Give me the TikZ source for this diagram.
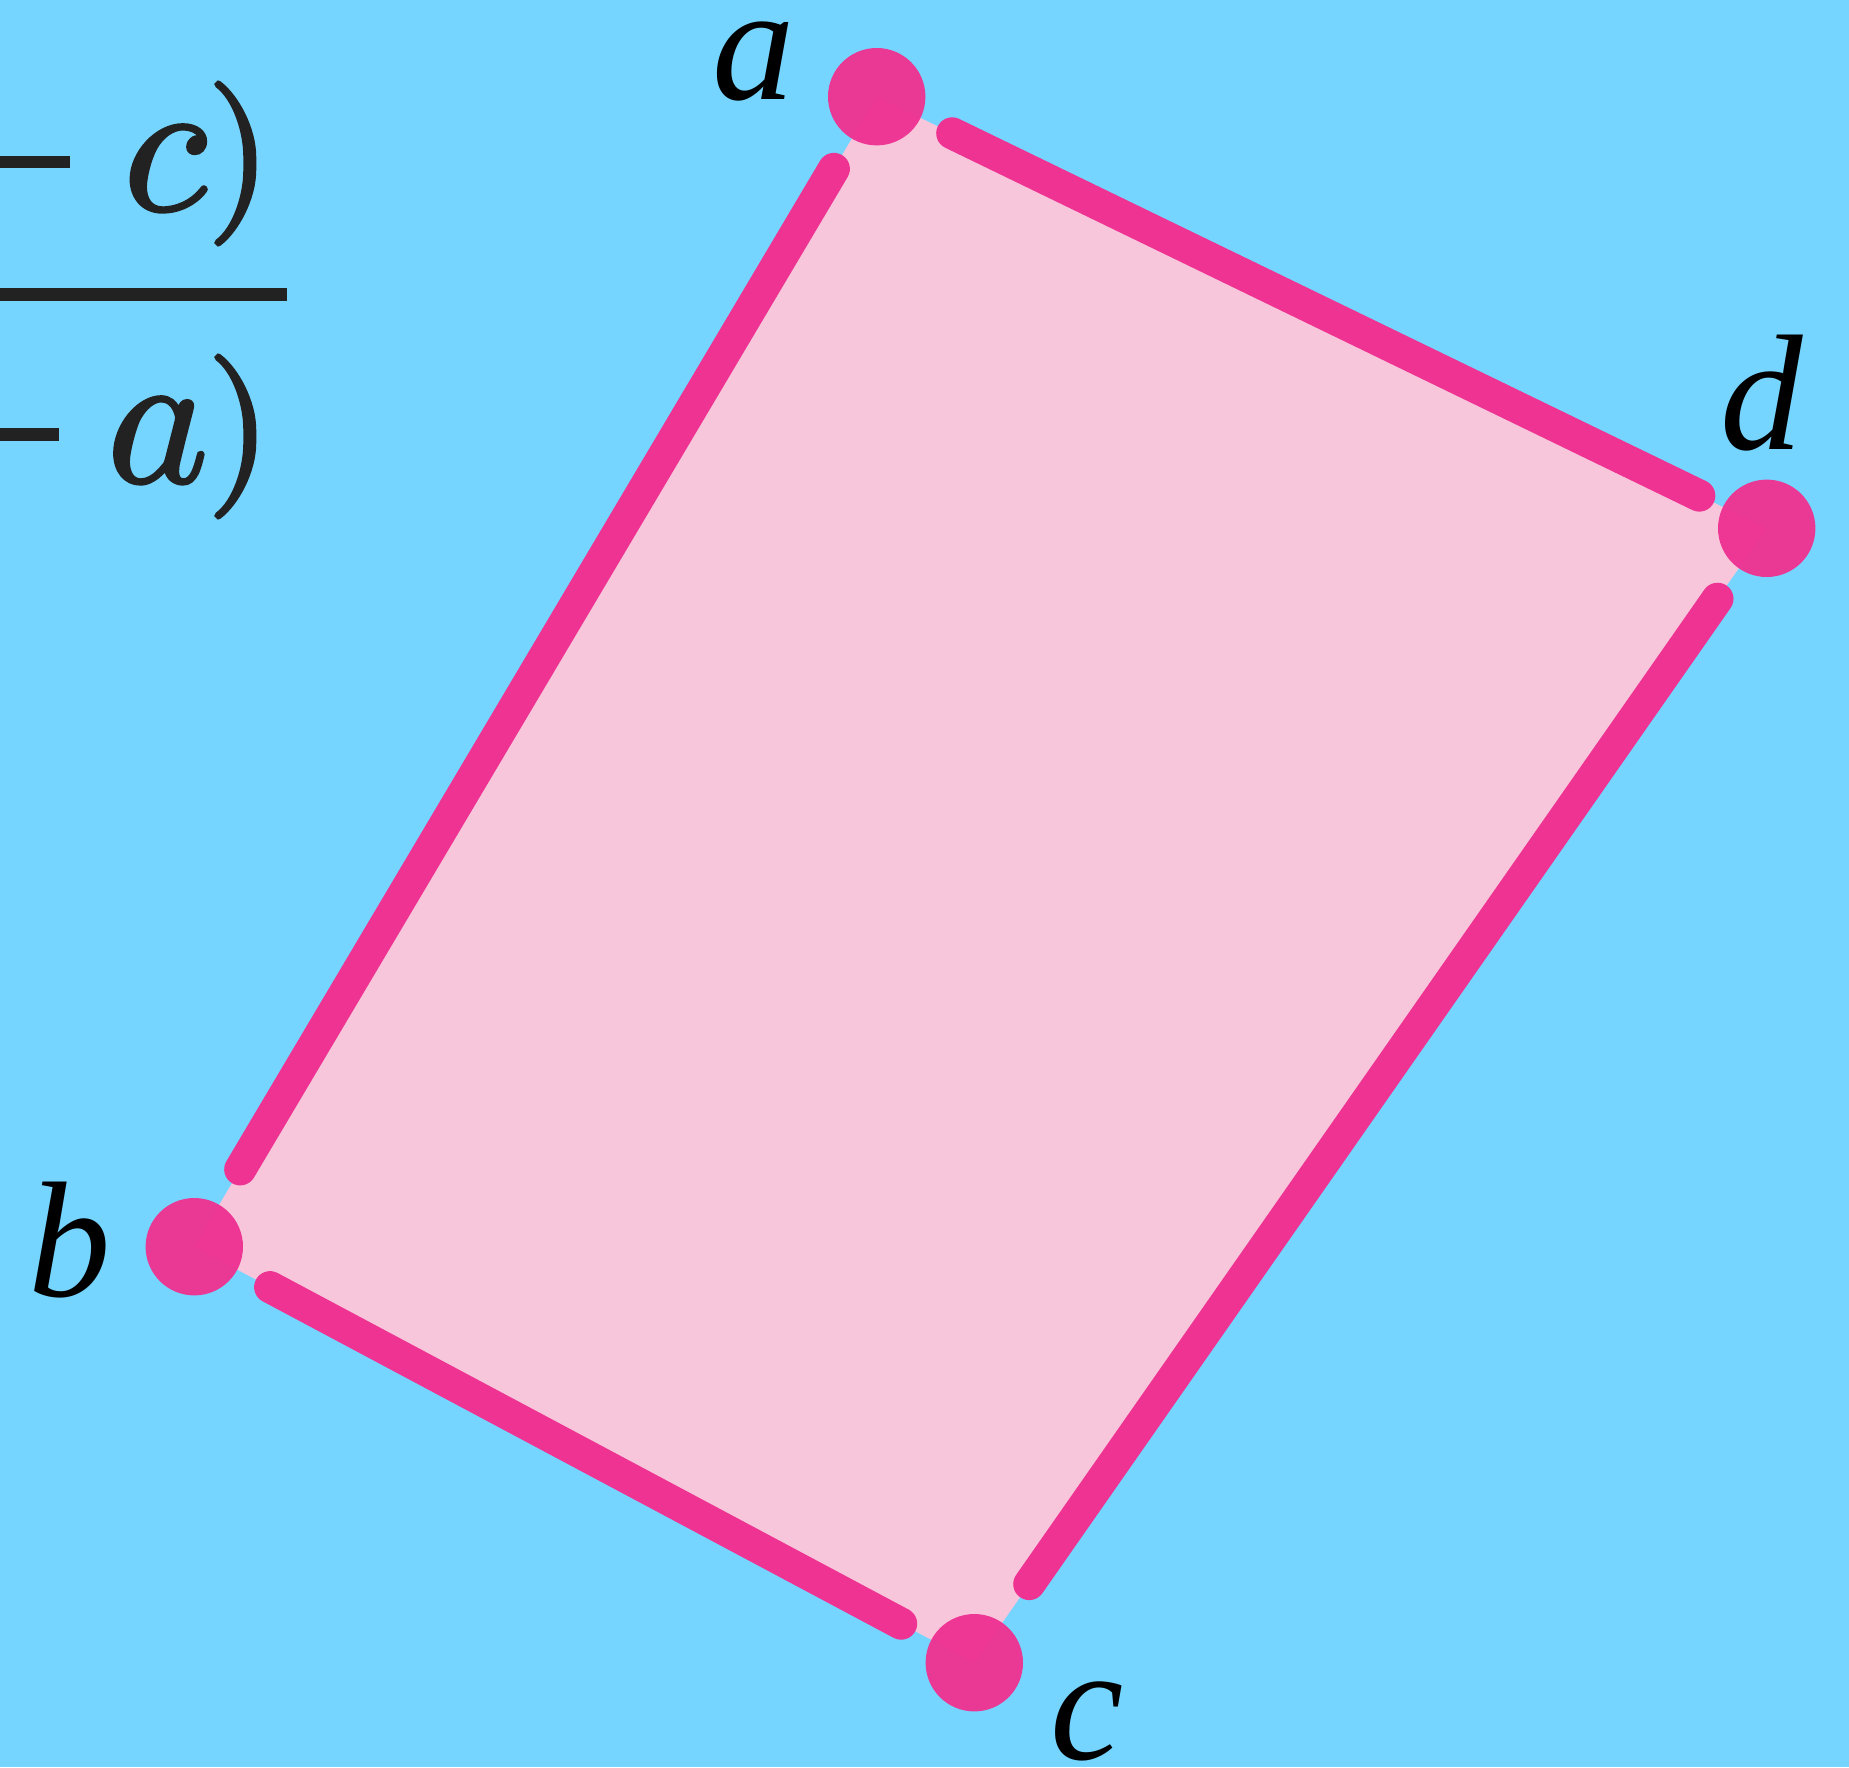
\documentclass[tikz,border=0pt]{standalone}
\usepackage{fontspec}
\newfontfamily\labelfont{Liberation Serif}
\newfontfamily\fracletter[FakeBold=1.6]{Latin Modern Math}
\newfontfamily\fracparen[FakeBold=2.6]{Latin Modern Math}
\usetikzlibrary{positioning,calc}
\definecolor{skyback}{HTML}{75D5FF}
\definecolor{quadpink}{HTML}{EE3392}
\definecolor{quadfill}{HTML}{F7C6DB}
\definecolor{fracgray}{HTML}{222222}
\pgfdeclarelayer{back}
\pgfsetlayers{back,main}

\begin{document}
\begin{tikzpicture}[x=1pt,y=-1pt,
  vertex/.style={circle,fill=quadpink,fill opacity=0.97,inner sep=0pt,minimum size=97.4pt},
  edge/.style={quadpink,line width=32pt,line cap=round},
  lbl/.style={inner sep=0pt,anchor=base,font=\labelfont\itshape\fontsize{165}{165}\selectfont},
  fracsym/.style={inner sep=0pt,anchor=base,text=fracgray,font=\fracletter\fontsize{193}{193}\selectfont},
  fracpar/.style={inner sep=0pt,anchor=base,text=fracgray,font=\fracparen\fontsize{162}{162}\selectfont}]
\useasboundingbox (0,0) rectangle (1849,1767);

% corners of the quadrilateral
\node[vertex] (a) at (876.7,96.7) {};
\node[vertex] (b) at (194.3,1246.7) {};
\node[vertex] (c) at (974.3,1662.7) {};
\node[vertex] (d) at (1766.7,528.3) {};

\node[lbl] (la) at (754,99) {a};
\node[lbl] (lb) at (70,1296) {b};
\node[lbl] (lc) at (1087,1759) {c};
\node[lbl] (ld) at (1762,449) {d};

\begin{pgfonlayer}{back}
\fill[skyback] (0,0) rectangle (1849,1767);
\fill[quadfill] (a.center) -- (b.center) -- (c.center) -- (d.center) -- cycle;
\draw[edge,shorten <=35pt,shorten >=41pt] (a) -- (b);
\draw[edge,shorten <=37pt,shorten >=34pt] (b) -- (c);
\draw[edge,shorten <=47pt,shorten >=37pt] (c) -- (d);
\draw[edge,shorten <=26pt,shorten >=35pt] (d) -- (a);
\end{pgfonlayer}

% fraction, cut at the left edge
\fill[fracgray] (0,156) rectangle (70,168);
\fill[fracgray] (0,288) rectangle (287,301);
\fill[fracgray] (0,428) rectangle (59,441);
\node[fracsym] (numc) at (165,210) {𝑐};
\node[fracpar] (nump) at (239,204) {)};
\node[fracsym] (dena) at (158,482) {𝑎};
\node[fracpar] (denp) at (239,477) {)};
\end{tikzpicture}
\end{document}
